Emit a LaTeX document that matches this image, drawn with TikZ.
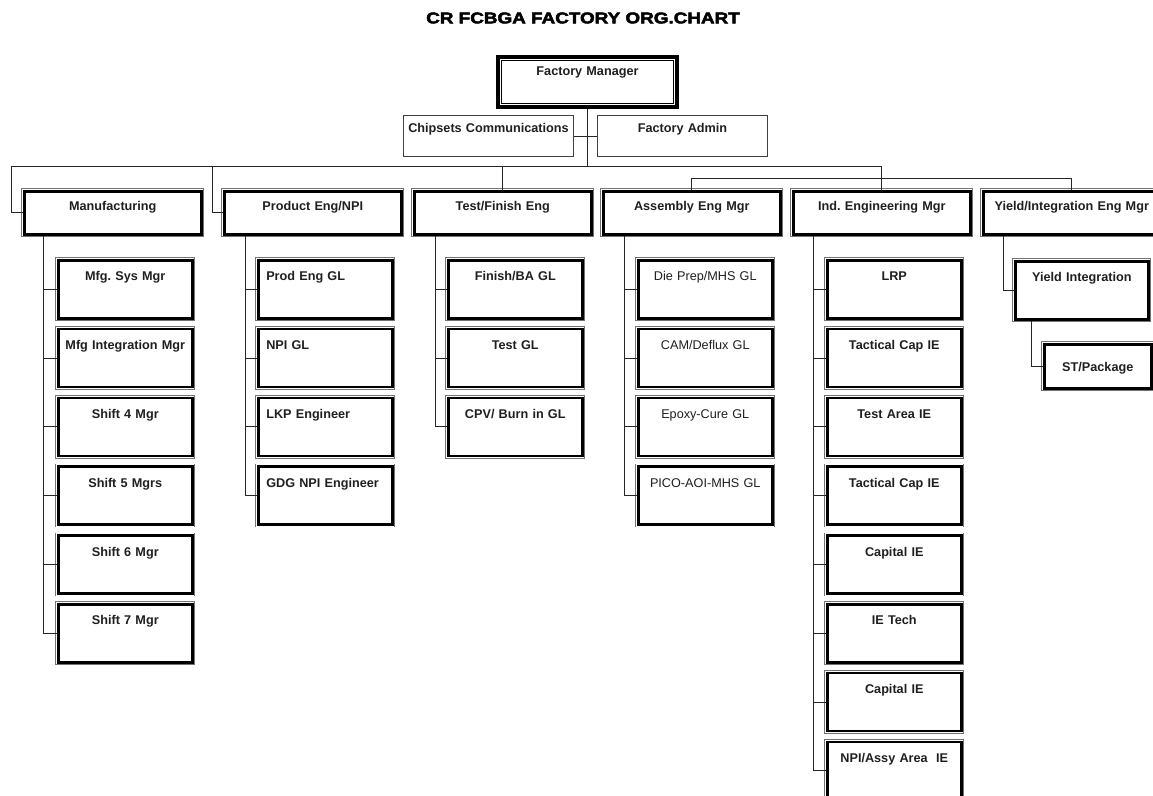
\documentclass[tikz,border=0pt]{standalone}
\usepackage{fontspec}
\usepackage{graphicx}
\setmainfont{Liberation Sans}
\newfontfamily\titlefont{Liberation Sans Bold}[FakeBold=2.6]
\usetikzlibrary{calc}
\newcommand\lblfont{\fontsize{9.5}{11}\selectfont\bfseries\frenchspacing}
\newcommand\lblfontreg{\fontsize{9.5}{11}\selectfont\mdseries\frenchspacing}

\begin{document}
\begin{tikzpicture}[x=0.75pt,y=-0.75pt,
  frame/.style={rectangle, anchor=north west, fill=white, inner ysep=0pt,
    inner xsep=3pt, align=center, font=\lblfont, text=black!88},
  framed/.style={frame, draw=black, line width=1.9pt,
    preaction={draw=black!55, line width=0.45pt, double=white, double distance=3.3pt}},
  headbox/.style={framed, text width=126.75pt, text height=14.6pt, text depth=17.65pt},
  staffbox/.style={framed, text width=94.5pt, text height=15.4pt, text depth=28.1pt},
  plainbox/.style={frame, draw=black!75, line width=0.75pt, text width=121.5pt,
    text height=12.4pt, text depth=18.35pt},
  leftlbl/.style={align=left, inner xsep=6pt, text width=88.5pt},
  reglbl/.style={font=\lblfontreg},
  wire/.style={draw=black!85, line width=0.75pt}]

\clip (0,0) rectangle (1153,796);
\fill[white] (0,0) rectangle (1153,796);

% title
\node (title) at (583,18) {\scalebox{1.2}[1]{\titlefont\fontsize{11.8}{13}\selectfont CR FCBGA FACTORY ORG.CHART}};

% top of the chart
\node[frame, draw=black, line width=3pt, text width=128.25pt, text height=14pt, text depth=23.5pt] (fm) at (496,55) {Factory Manager};
\draw[line width=0.6pt] ([xshift=4.1pt,yshift=-4.1pt]fm.north west) rectangle ([xshift=-4.1pt,yshift=4.1pt]fm.south east);
\node[plainbox] (chip) at (403,115) {Chipsets Communications};
\node[plainbox] (admin) at (597,115) {Factory Admin};

% department heads
\node[headbox] (manu)  at (23,190)  {Manufacturing};
\node[headbox] (prod)  at (223,190) {Product Eng/NPI};
\node[headbox] (test)  at (413,190) {Test/Finish Eng};
\node[headbox] (assy)  at (602,190) {Assembly Eng Mgr};
\node[headbox] (ieng)  at (792,190) {Ind. Engineering Mgr};
\node[headbox] (yield) at (982,190) {Yield/Integration Eng Mgr};

% connectors of the upper levels
\coordinate (busL) at (11,166);
\coordinate (busR) at (ieng.north |- busL);
\coordinate (pbus) at (212,166);
\coordinate (ybus) at (691,178);
\draw[wire] (fm.south) -- (fm.south |- busL);
\draw[wire] (chip.east) -- (admin.west);
\draw[wire] (busL) -- (busR);
\draw[wire] (busL) |- (manu.west);
\draw[wire] (pbus) |- (prod.west);
\draw[wire] (test.north) -- (test.north |- busL);
\draw[wire] (ieng.north) -- (busR);
\draw[wire] (assy.north) -- (assy.north |- ybus) -| (yield.north);

% Manufacturing
\foreach \lab [count=\k] in {Mfg. Sys Mgr, Mfg Integration Mgr, Shift 4 Mgr, Shift 5 Mgrs, Shift 6 Mgr, Shift 7 Mgr}
  \node[staffbox] (m\k) at (57,{259+68.8*(\k-1)}) {\lab};
\coordinate (mv) at ($(manu.south west)+(20,0)$);
\draw[wire] (mv) |- (m6.west);
\foreach \k in {1,...,5} \draw[wire] (m\k.west) -- (m\k.west -| mv);

% Product engineering
\foreach \lab [count=\k] in {Prod Eng GL, NPI GL, LKP Engineer, GDG NPI Engineer}
  \node[staffbox, leftlbl] (p\k) at (257,{259+68.8*(\k-1)}) {\lab};
\coordinate (pv) at ($(prod.south west)+(22,0)$);
\draw[wire] (pv) |- (p4.west);
\foreach \k in {1,...,3} \draw[wire] (p\k.west) -- (p\k.west -| pv);

% Test / finish
\foreach \lab [count=\k] in {Finish/BA GL, Test GL, CPV/ Burn in GL}
  \node[staffbox] (t\k) at (447,{259+68.8*(\k-1)}) {\lab};
\coordinate (tv) at ($(test.south west)+(22,0)$);
\draw[wire] (tv) |- (t3.west);
\foreach \k in {1,2} \draw[wire] (t\k.west) -- (t\k.west -| tv);

% Assembly
\foreach \lab [count=\k] in {Die Prep/MHS GL, CAM/Deflux GL, Epoxy-Cure GL, PICO-AOI-MHS GL}
  \node[staffbox, reglbl] (a\k) at (637,{259+68.8*(\k-1)}) {\lab};
\coordinate (av) at ($(assy.south west)+(22,0)$);
\draw[wire] (av) |- (a4.west);
\foreach \k in {1,...,3} \draw[wire] (a\k.west) -- (a\k.west -| av);

% Industrial engineering
\foreach \lab [count=\k] in {LRP, Tactical Cap IE, Test Area IE, Tactical Cap IE, Capital IE, IE Tech, Capital IE, NPI/Assy Area\ \ IE}
  \node[staffbox] (i\k) at (826,{259+68.8*(\k-1)}) {\lab};
\coordinate (iv) at ($(ieng.south west)+(21,0)$);
\draw[wire] (iv) |- (i8.west);
\foreach \k in {1,...,7} \draw[wire] (i\k.west) -- (i\k.west -| iv);

% Yield / integration
\node[staffbox, text width=93.75pt] (y1) at (1014,260) {Yield Integration};
\node[framed, text width=74.25pt, text height=20.5pt, text depth=12.5pt] (y2) at (1043,343) {ST/Package};
\coordinate (yv) at ($(yield.south west)+(21,0)$);
\draw[wire] (yv) |- (y1.west);
\coordinate (y1v) at ($(y1.south west)+(17,0)$);
\draw[wire] (y1v) |- (y2.west);
\end{tikzpicture}
\end{document}
